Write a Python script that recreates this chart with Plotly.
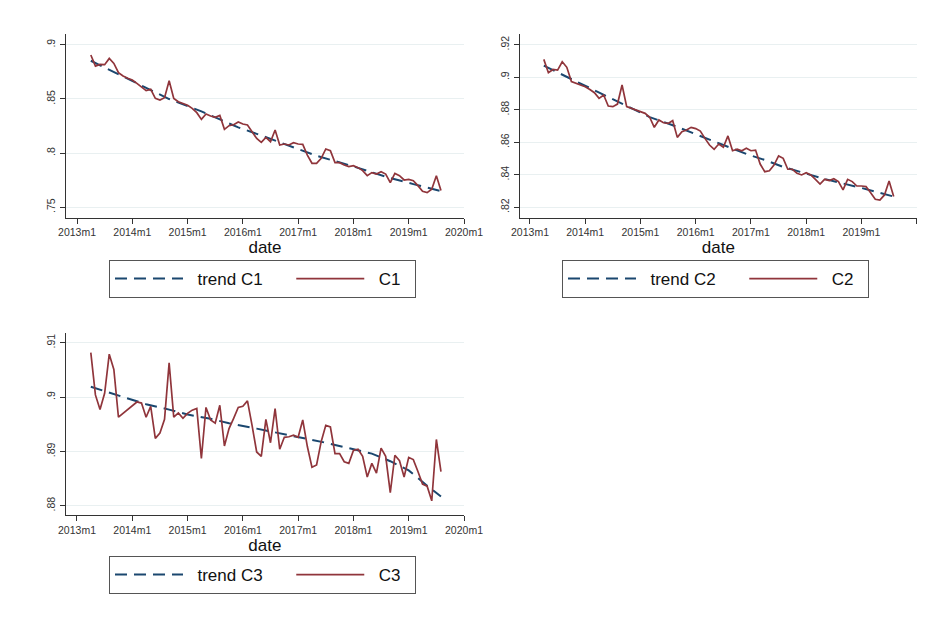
import plotly.graph_objects as go

# Stata %tm month index: 2013m1 = 636 ; data run 2013m4 .. 2019m8
start_month = 639
n_months = 77
months = list(range(start_month, start_month + n_months))

c1 = [.8905, .8803, .8819, .8816, .8874, .8828, .8742, .8711, .8690, .8674,
      .8643, .8613, .8576, .8588, .8505, .8490, .8511, .8668, .8505, .8474,
      .8459, .8441, .8413, .8373, .8311, .8361, .8342, .8330, .8348, .8219,
      .8253, .8262, .8287, .8268, .8259, .8198, .8136, .8099, .8145, .8105,
      .8213, .8075, .8084, .8075, .8096, .8084, .8081, .7982, .7906, .7906,
      .7952, .8038, .8022, .7912, .7912, .7890, .7875, .7884, .7866, .7838,
      .7792, .7820, .7807, .7829, .7807, .7727, .7813, .7792, .7752, .7758,
      .7746, .7700, .7647, .7635, .7666, .7792, .7654]

c2 = [.9110, .9028, .9048, .9044, .9095, .9061, .8973, .8962, .8952, .8942,
      .8925, .8905, .8870, .8891, .8823, .8819, .8835, .8952, .8819, .8809,
      .8798, .8790, .8778, .8754, .8692, .8737, .8720, .8716, .8733, .8630,
      .8665, .8675, .8692, .8684, .8669, .8624, .8583, .8557, .8589, .8569,
      .8639, .8548, .8557, .8548, .8563, .8548, .8552, .8466, .8419, .8425,
      .8460, .8516, .8501, .8434, .8434, .8409, .8399, .8413, .8399, .8372,
      .8343, .8372, .8364, .8376, .8358, .8307, .8372, .8358, .8331, .8331,
      .8327, .8290, .8249, .8245, .8276, .8362, .8266]

c3 = [.9082, .9004, .8977, .9007, .9079, .9051, .8963, .8970, .8976, .8983,
      .8991, .8989, .8963, .8983, .8924, .8934, .8959, .9063, .8963, .8971,
      .8961, .8970, .8976, .8979, .8887, .8981, .8958, .8952, .8985, .8910,
      .8942, .8961, .8981, .8983, .8993, .8948, .8899, .8891, .8959, .8916,
      .8979, .8904, .8926, .8927, .8930, .8926, .8958, .8909, .8871, .8875,
      .8918, .8948, .8945, .8896, .8896, .8881, .8878, .8902, .8904, .8891,
      .8853, .8878, .8860, .8906, .8891, .8824, .8893, .8883, .8853, .8889,
      .8885, .8863, .8840, .8836, .8809, .8922, .8863]

# trend curves, read at selected months (offset from 2013m1)
trend_c1_m = [3, 7, 11, 15, 20, 27, 35, 39, 47, 52, 60, 68, 73, 79]
trend_c1 = [.8852, .8769, .8689, .8606, .8499, .8385, .8237, .8178, .8052, .7975,
            .7877, .7769, .7714, .7650]
trend_c2_m = [3, 7, 11, 15, 19, 26, 31, 35, 40, 47, 51, 55, 60, 64, 72, 79]
trend_c2 = [.9071, .9016, .8962, .8907, .8850, .8755, .8705, .8661, .8603, .8528,
            .8491, .8448, .8407, .8374, .8319, .8266]
trend_c3_m = [3, 7, 11, 15, 20, 24, 29, 33, 39, 49, 54, 59, 64, 68, 72, 76, 79]
trend_c3 = [.9019, .9008, .8997, .8987, .8977, .8968, .8960, .8952, .8942, .8925,
            .8916, .8906, .8896, .8882, .8865, .8837, .8817]

x_tickvals = [636, 648, 660, 672, 684, 696, 708, 720]
x_ticktext = ["2013m1", "2014m1", "2015m1", "2016m1", "2017m1", "2018m1", "2019m1", "2020m1"]

y1_ticks = [.75, .8, .85, .9]
y1_text = [".75", ".8", ".85", ".9"]
y2_ticks = [.82, .84, .86, .88, .9, .92]
y2_text = [".82", ".84", ".86", ".88", ".9", ".92"]
y3_ticks = [.88, .89, .9, .91]
y3_text = [".88", ".89", ".9", ".91"]

NAVY = "#1a476f"
MAROON = "#90353b"
FONT = "Liberation Sans, Arial, sans-serif"
BASE = 636
NB = "\u00a0"

fig = go.Figure()
panels = [("1", c1, trend_c1_m, trend_c1, "C1", "legend"),
          ("2", c2, trend_c2_m, trend_c2, "C2", "legend2"),
          ("3", c3, trend_c3_m, trend_c3, "C3", "legend3")]
for idx, series, tm, trend, name, leg in panels:
    xa = "x" if idx == "1" else "x" + idx
    ya = "y" if idx == "1" else "y" + idx
    fig.add_trace(go.Scatter(x=[BASE + m for m in tm], y=trend, mode="lines",
                             name=NB * 2 + "trend " + name + NB * 5,
                             line=dict(color=NAVY, width=2, dash="12px,7px"),
                             xaxis=xa, yaxis=ya, legend=leg))
    fig.add_trace(go.Scatter(x=months, y=series, mode="lines",
                             name=NB * 2 + name + NB * 2,
                             line=dict(color=MAROON, width=1.7),
                             xaxis=xa, yaxis=ya, legend=leg))

# the page body adds an 8px offset; size the figure to the visible area
OFF = 8
W, H = 931 - OFF, 628 - OFF

def px_x(v):
    return (v - OFF) / W

def px_y(v):
    return 1 - (v - OFF) / H

def xaxis(dom, rng, anchor):
    return dict(domain=dom, range=rng, anchor=anchor, tickmode="array",
                tickvals=x_tickvals, ticktext=x_ticktext, showgrid=False,
                zeroline=False, showline=True, linecolor="#333", linewidth=1,
                ticks="outside", ticklen=5, tickcolor="#333", automargin=False,
                tickfont=dict(family=FONT, size=10.5, color="#333"),
                title=dict(text="date", font=dict(family=FONT, size=17, color="#111"),
                           standoff=2))

def yaxis(dom, rng, anchor, tv, tt):
    return dict(domain=dom, range=rng, anchor=anchor, tickmode="array",
                tickvals=tv, ticktext=tt, showgrid=True, gridcolor="#e9f0f1",
                gridwidth=1, zeroline=False, showline=True, linecolor="#333",
                linewidth=1, ticks="outside", ticklen=5, tickcolor="#333",
                tickangle=-90, automargin=False, ticklabelstandoff=1,
                tickfont=dict(family=FONT, size=10.5, color="#333"))

legend_common = dict(orientation="h", bordercolor="#555", borderwidth=1,
                     bgcolor="white", font=dict(family=FONT, size=17, color="#111"),
                     xanchor="left", yanchor="top", itemwidth=68)

fig.update_layout(
    width=W, height=H, margin=dict(l=0, r=0, t=0, b=0, autoexpand=False),
    paper_bgcolor="white", plot_bgcolor="white",
    xaxis=xaxis([px_x(66), px_x(464)], [633.61, 720], "y"),
    yaxis=yaxis([px_y(217.7), px_y(34)], [.7404, .9099], "x", y1_ticks, y1_text),
    xaxis2=xaxis([px_x(520), px_x(916.7)], [633.83, 720], "y2"),
    yaxis2=yaxis([px_y(217.7), px_y(34)], [.8136, .9266], "x2", y2_ticks, y2_text),
    xaxis3=xaxis([px_x(65.7), px_x(464)], [633.55, 720], "y3"),
    yaxis3=yaxis([px_y(515), px_y(333)], [.8783, .9118], "x3", y3_ticks, y3_text),
    legend=dict(x=px_x(109), y=px_y(260), **legend_common),
    legend2=dict(x=px_x(562), y=px_y(260), **legend_common),
    legend3=dict(x=px_x(109), y=px_y(556), **legend_common),
)

fig.write_html("out.html")
